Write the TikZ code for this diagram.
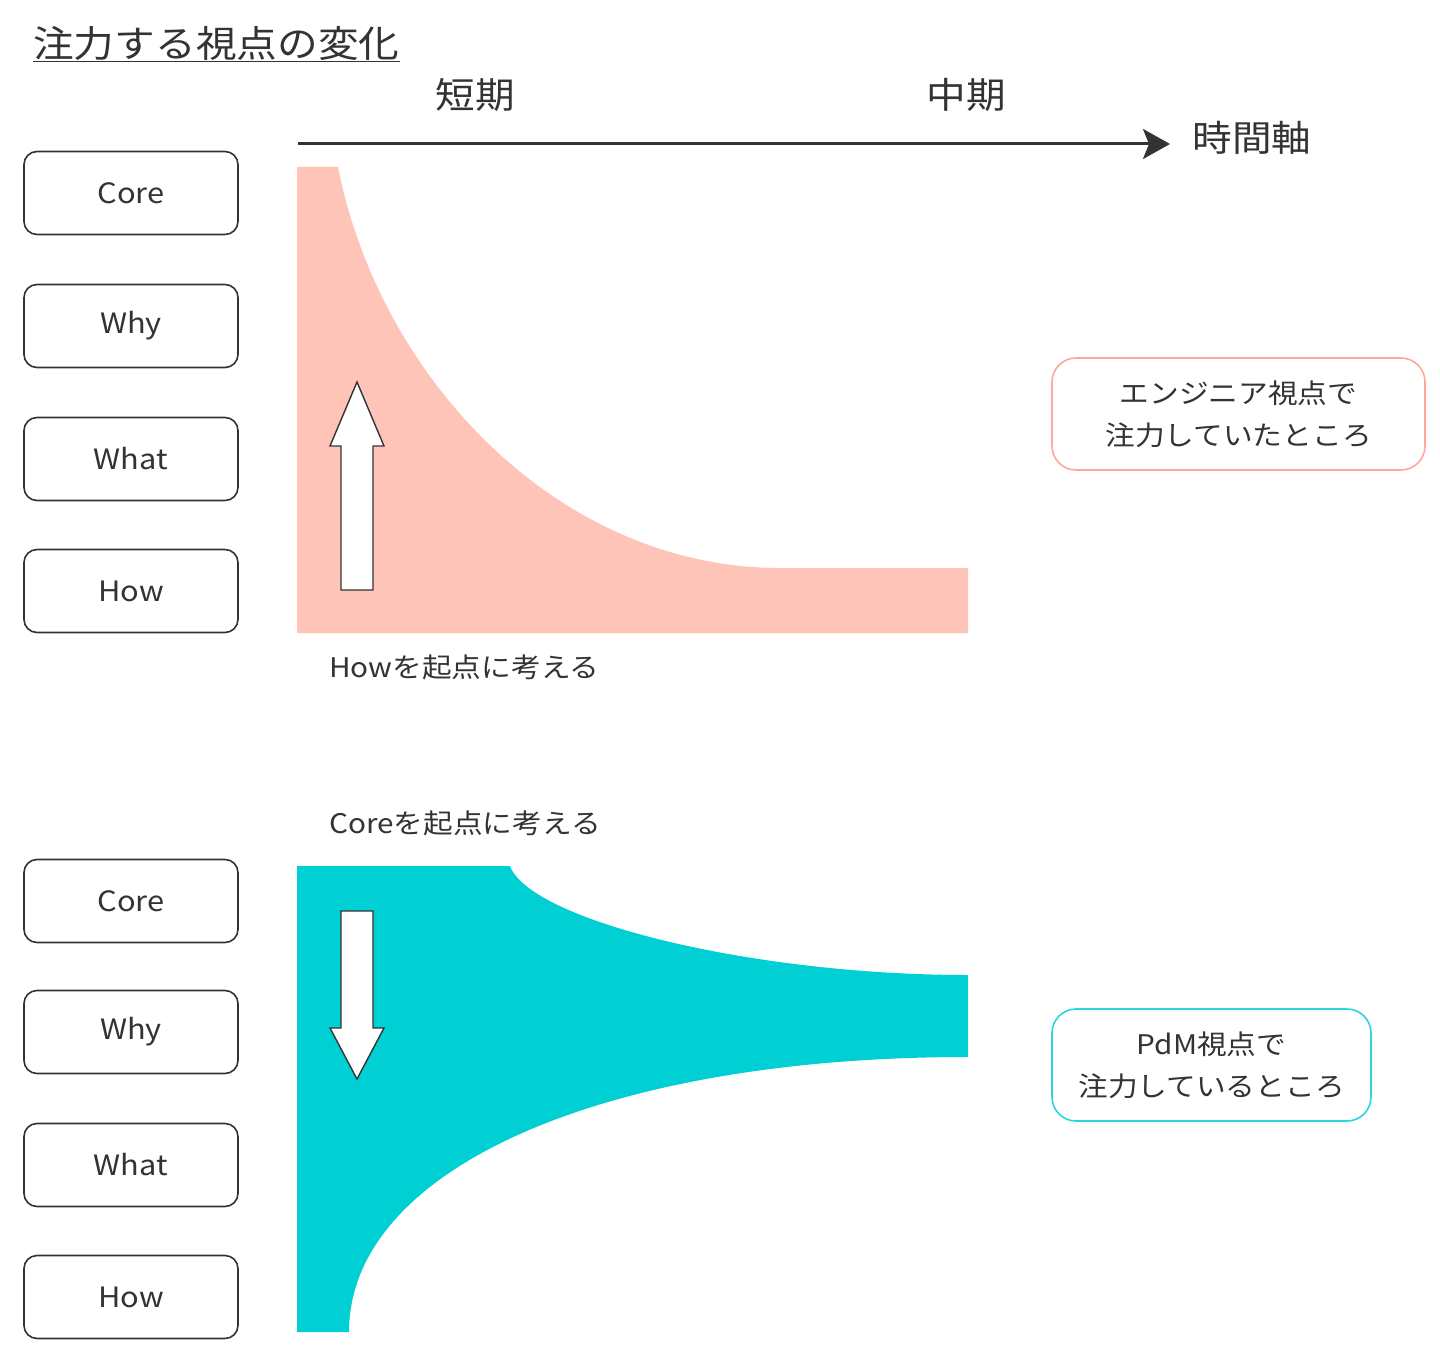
\documentclass[tikz,border=0pt]{standalone}
\usepackage{fontspec}
\setmainfont[FakeStretch=1.1]{Noto Sans CJK JP}
\usetikzlibrary{arrows.meta}
\definecolor{txt}{HTML}{333333}
\definecolor{pinkfill}{HTML}{FFC4B8}
\definecolor{pinkline}{HTML}{FFA79C}
\definecolor{cyanfill}{HTML}{00CFD4}
\definecolor{cyanline}{HTML}{2DD4D8}
\tikzset{
  lvl/.style={draw=txt, line width=1.6pt, rounded corners=13pt, minimum width=214pt, minimum height=83pt, text=txt, font=\fontsize{28}{34}\selectfont},
  lbl/.style={text=txt, font=\fontsize{36}{42}\selectfont, inner sep=0pt},
  small/.style={text=txt, font=\fontsize{27}{32}\selectfont, inner sep=0pt, anchor=west},
  note/.style={line width=1.6pt, rounded corners=24pt, minimum height=112pt, text=txt, align=center, font=\fontsize{27}{42}\selectfont},
  bigarrow/.style={draw=txt, line width=1.4pt, fill=white, line join=miter}
}
\begin{document}
\begin{tikzpicture}[x=1pt,y=-1pt]
\useasboundingbox[fill=white] (0,0) rectangle (1440,1364);
% title
\node[anchor=west, text=txt, font=\fontsize{37}{44}\selectfont, inner sep=0pt] (title) at (33,44) {\underline{注力する視点の変化}};
% time axis
\node[lbl] (short) at (475,95) {短期};
\node[lbl] (mid) at (966,95) {中期};
\node[lbl] (axis) at (1252,138) {時間軸};
\coordinate (axstart) at (298,144);
\coordinate (axend) at (1170,144);
\draw[txt, line width=3pt, -{Stealth[length=27pt,width=30pt,inset=6pt]}] (axstart) -- (axend);
% top level boxes
\node[lvl] (core1) at (131,193) {Core};
\node[lvl] (why1) at (131,326) {Why};
\node[lvl] (what1) at (131,459) {What};
\node[lvl] (how1) at (131,591) {How};
% pink shape
\fill[pinkfill] (297,167) -- (338,167) .. controls (380,380) and (560,568) .. (780,568) -- (968,568) -- (968,633) -- (297,633) -- cycle;
\draw[bigarrow] (341,590) -- (373,590) -- (373,446) -- (384,446) -- (357,382) -- (330,446) -- (341,446) -- cycle;
\node[small] (howstart) at (329,667) {Howを起点に考える};
\node[note, draw=pinkline, minimum width=373pt] (eng) at (1238.5,414) {エンジニア視点で\\注力していたところ};
% bottom level boxes
\node[lvl] (core2) at (131,901) {Core};
\node[lvl] (why2) at (131,1032) {Why};
\node[lvl] (what2) at (131,1165) {What};
\node[lvl] (how2) at (131,1297) {How};
% cyan shape
\fill[cyanfill] (297,866) -- (510,866) .. controls (530,920) and (750,975) .. (968,975) -- (968,1057) .. controls (600,1057) and (349,1170) .. (349,1332) -- (297,1332) -- cycle;
\draw[bigarrow] (341,911) -- (373,911) -- (373,1028) -- (384,1028) -- (357,1079) -- (330,1028) -- (341,1028) -- cycle;
\node[small] (corestart) at (329,823) {Coreを起点に考える};
\node[note, draw=cyanline, minimum width=319pt] (pdm) at (1211.5,1065) {PdM視点で\\注力しているところ};
\end{tikzpicture}
\end{document}
